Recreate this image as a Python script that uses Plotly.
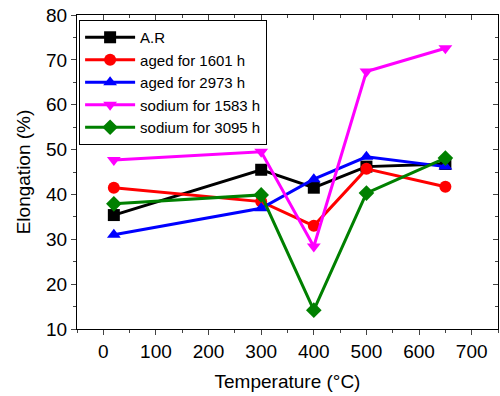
import plotly.graph_objects as go

temps = [20, 300, 400, 500, 650]
ar = [35.4, 45.5, 41.5, 46.2, 46.8]
aged1601 = [41.5, 38.4, 33.0, 45.7, 41.7]
aged2973 = [31.0, 36.9, 43.4, 48.4, 46.2]
sodium1583 = [47.7, 49.5, 28.4, 67.4, 72.6]
sodium3095 = [37.9, 39.9, 14.2, 40.3, 48.1]

series = [
    ("A.R", ar, "black", "square"),
    ("aged for 1601 h", aged1601, "red", "circle"),
    ("aged for 2973 h", aged2973, "blue", "triangle-up"),
    ("sodium for 1583 h", sodium1583, "magenta", "triangle-down"),
    ("sodium for 3095 h", sodium3095, "green", "diamond"),
]

fig = go.Figure()
for name, vals, color, sym in series:
    fig.add_trace(go.Scatter(
        x=temps, y=vals, name=name, mode="lines+markers",
        line=dict(color=color, width=3),
        marker=dict(color=color, symbol=sym, size=12),
    ))

font = "Liberation Sans, Arial, sans-serif"
fig.update_layout(
    width=500, height=396,
    margin=dict(l=77, r=2, t=15, b=67),
    paper_bgcolor="white", plot_bgcolor="white",
    font=dict(family=font, color="black"),
    showlegend=True,
    legend=dict(x=0.005, y=0.984, xanchor="left", yanchor="top",
                bordercolor="black", borderwidth=1, bgcolor="white",
                font=dict(size=15, family=font), tracegroupgap=0,
                itemwidth=50),
    xaxis=dict(range=[-50, 750], tickvals=[0, 100, 200, 300, 400, 500, 600, 700],
               ticks="outside", ticklen=5, tickwidth=1, showline=True, linecolor="black",
               mirror=True, showgrid=False, zeroline=False,
               minor=dict(ticks="outside", ticklen=3, dtick=50, tick0=0),
               tickfont=dict(size=19),
               title=dict(text="Temperature (\u00b0C)", font=dict(size=19), standoff=13)),
    yaxis=dict(range=[10, 80], dtick=10, ticks="outside", ticklen=5, tickwidth=1,
               showline=True, linecolor="black", mirror=True, showgrid=False, zeroline=False,
               minor=dict(ticks="outside", ticklen=3, dtick=5),
               tickfont=dict(size=19),
               title=dict(text="Elongation (%)", font=dict(size=19), standoff=10)),
    xaxis2=dict(range=[-50, 750], overlaying="x", side="top", anchor="y",
                tickvals=[0, 100, 200, 300, 400, 500, 600, 700], ticks="inside", ticklen=5,
                showticklabels=False, showgrid=False, zeroline=False,
                minor=dict(ticks="inside", ticklen=3, dtick=50, tick0=0)),
    yaxis2=dict(range=[10, 80], overlaying="y", side="right", anchor="x",
                dtick=10, ticks="inside", ticklen=5, showticklabels=False,
                showgrid=False, zeroline=False,
                minor=dict(ticks="inside", ticklen=3, dtick=5)),
)
fig.add_trace(go.Scatter(x=[None], y=[None], xaxis="x2", yaxis="y2",
                         showlegend=False, hoverinfo="skip"))
fig.write_html("out.html")
